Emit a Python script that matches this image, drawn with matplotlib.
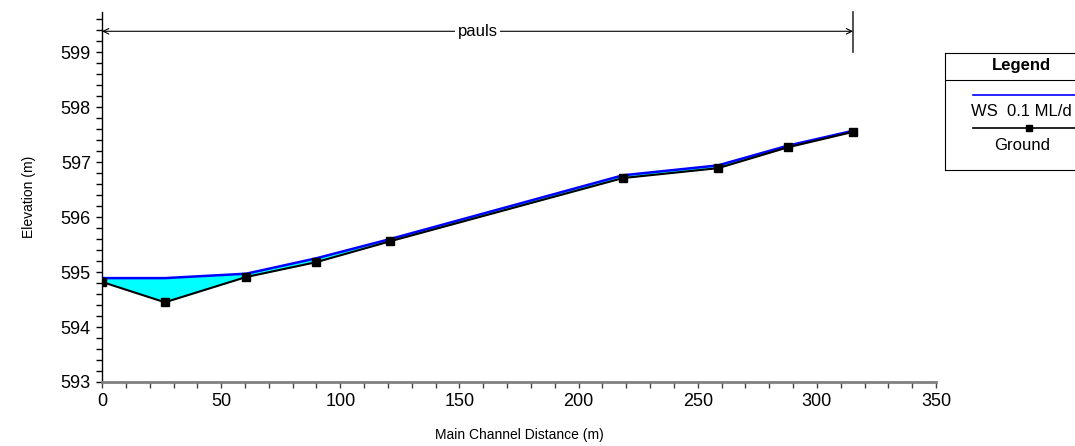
import numpy as np
import matplotlib.pyplot as plt

plt.rcParams['font.family'] = ['Liberation Sans', 'DejaVu Sans']

# main channel stations (m)
dist = [0, 26.4, 60.5, 89.9, 120.9, 218.6, 258.5, 287.9, 315.2]
ground = [594.82, 594.45, 594.91, 595.18, 595.56, 596.71, 596.89, 597.27, 597.55]
ws = [594.89, 594.89, 594.97, 595.25, 595.60, 596.76, 596.94, 597.30, 597.57]
reach_name = "pauls"
ws_label = "WS  0.1 ML/d"

fig = plt.figure(figsize=(10.75, 4.46), dpi=100)
ax = fig.add_axes([0.0949, 0.1435, 0.7758, 0.8295])

ax.fill_between(dist, ground, ws, color='#00ffff', lw=0)
ax.plot(dist, ws, color='#0000ff', lw=1.8)
ax.plot(dist, ground, color='black', lw=1.5, marker='s', ms=5.5)

ax.set_xlim(0, 350)
ax.set_ylim(593, 599.73)
ax.set_xticks(np.arange(0, 351, 50))
ax.set_xticks(np.arange(0, 351, 10), minor=True)
ax.set_yticks(np.arange(593, 599.5, 1))
ax.set_yticks(np.arange(593, 599.75, 0.2), minor=True)
ax.tick_params(which='both', direction='out', length=4, width=1, labelsize=13, pad=4)
ax.tick_params(axis='x', which='both', colors='#444444', labelcolor='black')

for s in ['top', 'right']:
    ax.spines[s].set_visible(False)
ax.spines['bottom'].set_color('#808080')
ax.spines['bottom'].set_linewidth(2)
ax.spines['left'].set_linewidth(1)

ax.set_xlabel('Main Channel Distance (m)', fontsize=10, labelpad=13)
ax.set_ylabel('Elevation (m)', fontsize=10, labelpad=18)

# reach bracket at top
ytop = 599.38
ax.annotate('', xy=(0, ytop), xytext=(dist[-1], ytop),
            arrowprops=dict(arrowstyle='<->', lw=0.8, color='black',
                            shrinkA=0, shrinkB=0), annotation_clip=False)
ax.plot([dist[-1], dist[-1]], [599.0, 599.73], color='#333333', lw=1.2, clip_on=False)
ax.text(dist[-1] / 2, ytop, reach_name, fontsize=12, ha='center', va='center',
        bbox=dict(facecolor='white', edgecolor='none', pad=2))

# legend box on the right
lax = fig.add_axes([0.879, 0.619, 0.13, 0.262])
lax.set_xlim(0, 1)
lax.set_ylim(0, 1)
lax.set_xticks([])
lax.set_yticks([])
lax.spines['right'].set_visible(False)
lax.text(0.55, 0.89, 'Legend', fontsize=12, fontweight='bold', ha='center', va='center')
lax.axhline(0.77, color='black', lw=0.8)
lax.plot([0.2, 1.0], [0.645, 0.645], color='#0000ff', lw=1.2)
lax.text(0.55, 0.50, ws_label, fontsize=12, ha='center', va='center')
lax.plot([0.2, 1.0], [0.355, 0.355], color='black', lw=1.2)
lax.plot([0.6], [0.355], color='black', marker='s', ms=5)
lax.text(0.55, 0.21, 'Ground', fontsize=12, ha='center', va='center')

fig.savefig('out.png', dpi=100)
